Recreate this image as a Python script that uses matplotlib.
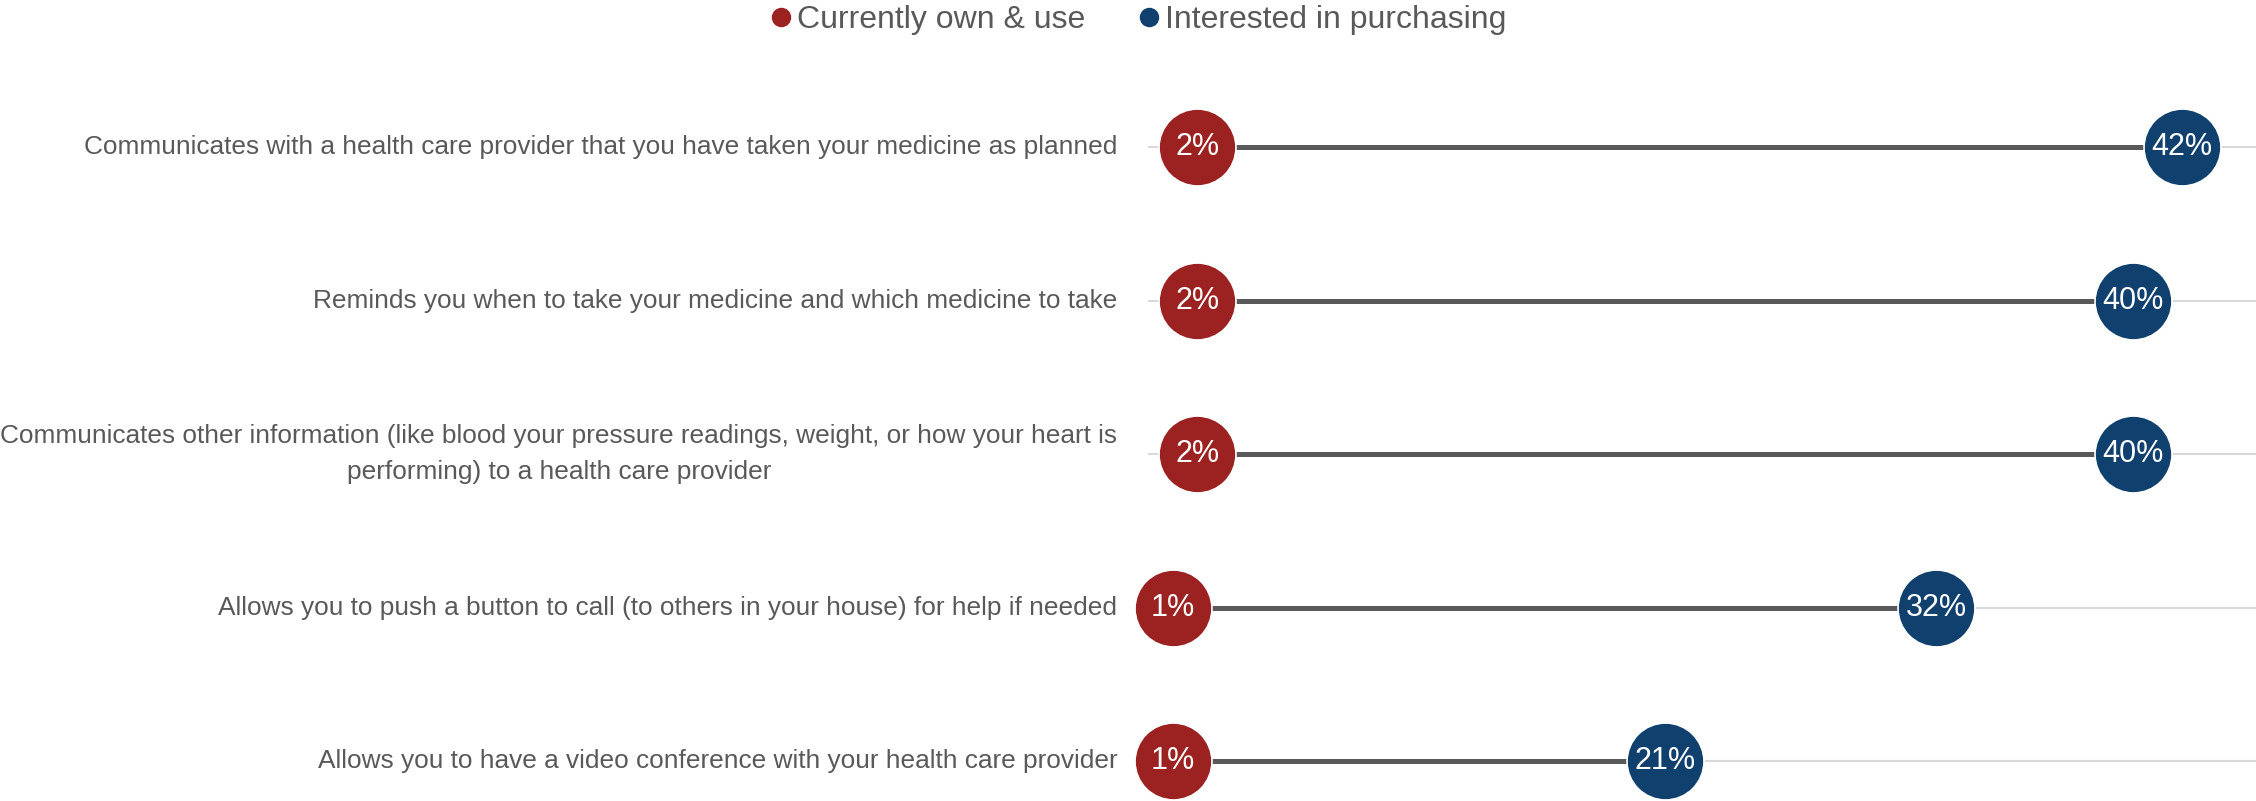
import matplotlib.pyplot as plt
from matplotlib.lines import Line2D

categories = [
    "Communicates with a health care provider that you have taken your medicine as planned",
    "Reminds you when to take your medicine and which medicine to take",
    "Communicates other information (like blood your pressure readings, weight, or how your heart is\nperforming) to a health care provider",
    "Allows you to push a button to call (to others in your house) for help if needed",
    "Allows you to have a video conference with your health care provider",
]
own_use = [2, 2, 2, 1, 1]
interested = [42, 40, 40, 32, 21]
series_names = ["Currently own & use", "Interested in purchasing"]

RED = "#9c2121"
BLUE = "#10406d"
TEXT = "#595959"


def main():
    plt.rcParams["font.family"] = ["Liberation Sans", "DejaVu Sans"]

    fig = plt.figure(figsize=(22.56, 8.01), dpi=100)
    left = 1148 / 2256
    ax = fig.add_axes([left, 0, 1 - left, 1])
    ax.set_xlim(0, 45)
    ax.set_ylim(4.26, -0.958)
    ax.axis("off")

    ys = list(range(len(categories)))

    # light grid line across each row
    ax.hlines(ys, 0, 45, color="#d9d9d9", lw=1.5, zorder=1)
    # dumbbell connector
    ax.hlines(ys, own_use, interested, color=TEXT, lw=3.6, zorder=2)

    ax.scatter(own_use, ys, s=3070, color=RED, edgecolor="white", linewidth=1.2,
               zorder=3, clip_on=False)
    ax.scatter(interested, ys, s=3070, color=BLUE, edgecolor="white", linewidth=1.2,
               zorder=3, clip_on=False)

    for y, a, b in zip(ys, own_use, interested):
        ax.text(a, y, f"{a}%", color="white", fontsize=22, ha="center", va="center", zorder=4)
        ax.text(b, y, f"{b}%", color="white", fontsize=22, ha="center", va="center", zorder=4)

    for y, label in zip(ys, categories):
        ax.annotate(label, xy=(0, y), xytext=(-22, 0), textcoords="offset points",
                    ha="right", va="center", multialignment="center", linespacing=1.6,
                    fontsize=18.9, color=TEXT, annotation_clip=False)

    handles = [
        Line2D([], [], marker="o", linestyle="none", markersize=13, color=RED),
        Line2D([], [], marker="o", linestyle="none", markersize=13, color=BLUE),
    ]
    fig.legend(handles, series_names, loc="center", bbox_to_anchor=(0.505, 0.975),
               ncol=2, frameon=False, fontsize=23, labelcolor=TEXT,
               handlelength=0.6, handletextpad=0.2, columnspacing=1.7,
               borderpad=0, borderaxespad=0)

    fig.savefig("out.png", dpi=100)
    plt.close(fig)


if __name__ == "__main__":
    main()
